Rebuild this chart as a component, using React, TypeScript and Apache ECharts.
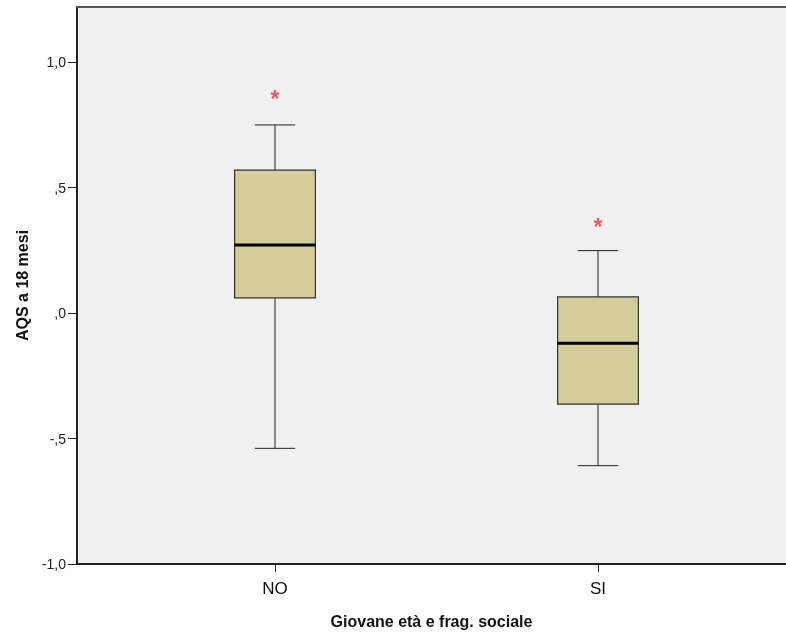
import React, { useEffect, useRef } from "react";
import * as echarts from "echarts";

const categories = ["NO", "SI"];
// [min, Q1, median, Q3, max]
const boxValues = [
  [-0.539, 0.061, 0.271, 0.57, 0.75],
  [-0.608, -0.363, -0.12, 0.065, 0.249],
];
const outliers = [
  [0, 0.866],
  [1, 0.356],
];
const yTicks = [-1, -0.5, 0, 0.5, 1];

const fmt = (v: number) => {
  const s = Math.abs(v).toFixed(1).replace(".", ",");
  const t = s.startsWith("0") ? s.slice(1) : s;
  return (v < 0 ? "-" : "") + t;
};

export default function App() {
  const ref = useRef<HTMLDivElement>(null);
  useEffect(() => {
    const chart = echarts.init(ref.current!, undefined, { renderer: "svg" });
    const font = "'Liberation Sans', Arial, sans-serif";
    const yMin = -1;
    const yMax = 1.22;
    chart.setOption({
      animation: false,
      textStyle: { fontFamily: font },
      grid: [
        { left: 77, right: 0, top: 7, bottom: 71, show: true, backgroundColor: "#f0f0f0", borderWidth: 0 },
        { left: 113.5, right: 26.5, top: 7, bottom: 71 },
      ],
      xAxis: [
        {
          gridIndex: 0,
          type: "value",
          min: 0,
          max: 1,
          position: "bottom",
          axisLine: { show: true, onZero: false, lineStyle: { color: "#222", width: 2 } },
          axisTick: { show: false },
          axisLabel: { show: false },
          splitLine: { show: false },
          name: "Giovane età e frag. sociale",
          nameLocation: "middle",
          nameGap: 49,
          nameTextStyle: { fontSize: 16, fontWeight: "bold", color: "#111", fontFamily: font },
        },
        {
          gridIndex: 0,
          type: "value",
          min: 0,
          max: 1,
          position: "top",
          axisLine: { show: true, onZero: false, lineStyle: { color: "#555", width: 2 } },
          axisTick: { show: false },
          axisLabel: { show: false },
          splitLine: { show: false },
        },
        {
          gridIndex: 1,
          type: "category",
          data: categories,
          axisLine: { show: false, onZero: false },
          axisTick: { show: true, alignWithLabel: true, length: 8, lineStyle: { color: "#222", width: 1 } },
          axisLabel: { fontSize: 17, color: "#111", margin: 16, fontFamily: font },
          splitLine: { show: false },
        },
      ],
      yAxis: [
        {
          gridIndex: 0,
          type: "value",
          min: yMin,
          max: yMax,
          interval: 0.5,
          axisLine: { show: true, onZero: false, lineStyle: { color: "#222", width: 2 } },
          axisTick: { show: true, length: 9, customValues: yTicks, lineStyle: { color: "#222", width: 1 } },
          axisLabel: {
            customValues: yTicks,
            formatter: (v: number) => fmt(v),
            fontSize: 14,
            color: "#222",
            margin: 11,
            fontFamily: font,
          },
          splitLine: { show: false },
          name: "AQS a 18 mesi",
          nameLocation: "middle",
          nameGap: 47,
          nameRotate: 90,
          nameTextStyle: { fontSize: 16, fontWeight: "bold", color: "#111", fontFamily: font },
        },
        { gridIndex: 1, type: "value", min: yMin, max: yMax, show: false },
      ],
      series: [
        {
          type: "custom",
          xAxisIndex: 2,
          yAxisIndex: 1,
          data: boxValues.map((b, i) => [i, ...b]),
          renderItem: (params: any, api: any) => {
            const x = api.value(0);
            const [, yMinP] = api.coord([x, api.value(1)]);
            const [, q1] = api.coord([x, api.value(2)]);
            const [, med] = api.coord([x, api.value(3)]);
            const [, q3] = api.coord([x, api.value(4)]);
            const [cx, yMaxP] = api.coord([x, api.value(5)]);
            const bw = api.size([1, 0])[0] * 0.25;
            const hw = bw / 2;
            const cw = bw / 4;
            const lineStyle = { stroke: "#222", lineWidth: 1 };
            return {
              type: "group",
              children: [
                { type: "line", shape: { x1: cx, y1: yMaxP, x2: cx, y2: q3 }, style: lineStyle },
                { type: "line", shape: { x1: cx, y1: q1, x2: cx, y2: yMinP }, style: lineStyle },
                { type: "line", shape: { x1: cx - cw, y1: yMaxP, x2: cx + cw, y2: yMaxP }, style: lineStyle },
                { type: "line", shape: { x1: cx - cw, y1: yMinP, x2: cx + cw, y2: yMinP }, style: lineStyle },
                {
                  type: "rect",
                  shape: { x: cx - hw, y: q3, width: bw, height: q1 - q3 },
                  style: { fill: "#d3ce97", stroke: "#333", lineWidth: 1.2 },
                },
                { type: "line", shape: { x1: cx - hw, y1: med, x2: cx + hw, y2: med }, style: { stroke: "#000", lineWidth: 3 } },
              ],
            };
          },
        },
        {
          type: "scatter",
          xAxisIndex: 2,
          yAxisIndex: 1,
          data: outliers,
          symbol: "circle",
          symbolSize: 1,
          itemStyle: { color: "rgba(0,0,0,0)" },
          label: {
            show: true,
            position: "inside",
            formatter: "*",
            fontSize: 23,
            fontWeight: "bold",
            color: "#e8343c",
            offset: [0, 3],
            fontFamily: font,
          },
        },
      ],
    });
    return () => chart.dispose();
  }, []);
  return <div ref={ref} style={{ position: "fixed", left: 0, top: 0, width: 786, height: 635 }} />;
}
